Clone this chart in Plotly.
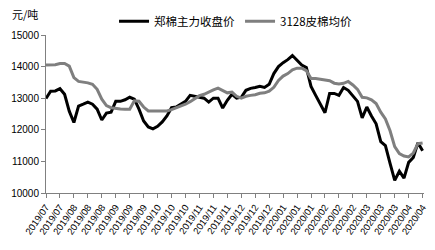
import plotly.graph_objects as go

tick_labels = ["2019/07", "2019/07", "2019/08", "2019/08", "2019/08", "2019/09", "2019/09",
               "2019/09", "2019/10", "2019/10", "2019/10", "2019/11", "2019/11", "2019/11",
               "2019/12", "2019/12", "2019/12", "2020/01", "2020/01", "2020/01", "2020/02",
               "2020/02", "2020/02", "2020/03", "2020/03", "2020/03", "2020/04", "2020/04"]

zhengmian = [12990, 13220, 13230, 13300, 13125, 12590, 12230, 12750, 12810, 12875,
             12810, 12655, 12310, 12530, 12560, 12900, 12900, 12950, 13030, 12970,
             12655, 12280, 12090, 12030, 12110, 12250, 12440, 12700, 12720, 12810,
             12900, 13090, 13060, 13030, 13000, 12875, 13000, 13000, 12690, 12935,
             13125, 13000, 13030, 13250, 13310, 13340, 13375, 13340, 13440, 13780,
             14000, 14125, 14220, 14350, 14200, 14050, 13970, 13375, 13090, 12800,
             12540, 13150, 13150, 13090, 13340, 13250, 13090, 12900, 12375, 12720,
             12440, 12190, 11625, 11500, 10940, 10400, 10690, 10470, 10970, 11125,
             11590, 11340]

pimian = [14050, 14050, 14060, 14100, 14100, 14015, 13650, 13530, 13515, 13485,
          13440, 13280, 12970, 12765, 12700, 12670, 12655, 12650, 12650, 12920,
          12905, 12720, 12595, 12595, 12595, 12595, 12595, 12640, 12690, 12735,
          12810, 12890, 12985, 13080, 13125, 13200, 13265, 13320, 13235, 13170,
          13190, 13060, 13000, 13060, 13090, 13110, 13155, 13170, 13220, 13345,
          13560, 13700, 13780, 13900, 13950, 13950, 13870, 13625, 13620, 13600,
          13580, 13555, 13475, 13450, 13470, 13530, 13420, 13280, 13030, 13010,
          12950, 12830, 12560, 12345, 11970, 11470, 11250, 11170, 11140, 11265,
          11560, 11585]

x = list(range(len(zhengmian)))
tickvals = [i * 3 for i in range(len(tick_labels))]

fig = go.Figure()
fig.add_trace(go.Scatter(x=x, y=zhengmian, mode="lines", name="郑棉主力收盘价",
                         line=dict(color="#000000", width=3)))
fig.add_trace(go.Scatter(x=x, y=pimian, mode="lines", name="3128皮棉均价",
                         line=dict(color="#7f7f7f", width=3)))

fig.update_layout(
    width=435, height=250,
    margin=dict(l=46, r=7, t=33, b=57),
    paper_bgcolor="white", plot_bgcolor="white",
    font=dict(family="Noto Sans CJK SC, Liberation Sans, sans-serif", size=10, color="#000"),
    showlegend=True,
    legend=dict(orientation="h", x=0.18, xanchor="left", y=1.0875, yanchor="middle",
                font=dict(size=11.5, family="Noto Sans CJK SC"), itemwidth=30,
                bgcolor="rgba(0,0,0,0)", tracegroupgap=0),
    annotations=[dict(text="元/吨", xref="paper", yref="paper", x=-0.055, y=1.13,
                      xanchor="center", yanchor="middle", showarrow=False,
                      font=dict(size=11, family="Noto Sans CJK SC"))],
)
fig.update_xaxes(range=[0, 81.3], tickvals=tickvals, ticktext=tick_labels, tickangle=-55,
                 showline=True, linecolor="#808080", linewidth=1, ticks="outside",
                 ticklen=4, tickcolor="#808080", showgrid=False, zeroline=False,
                 tickfont=dict(size=9.5, family="Liberation Sans"))
fig.update_yaxes(range=[10000, 15000], dtick=1000, showline=True, linecolor="#808080",
                 linewidth=1, ticks="outside", ticklen=4, tickcolor="#808080",
                 showgrid=False, zeroline=False, tickformat="d",
                 tickfont=dict(size=10, family="Liberation Sans"))

fig.write_html("out.html")
